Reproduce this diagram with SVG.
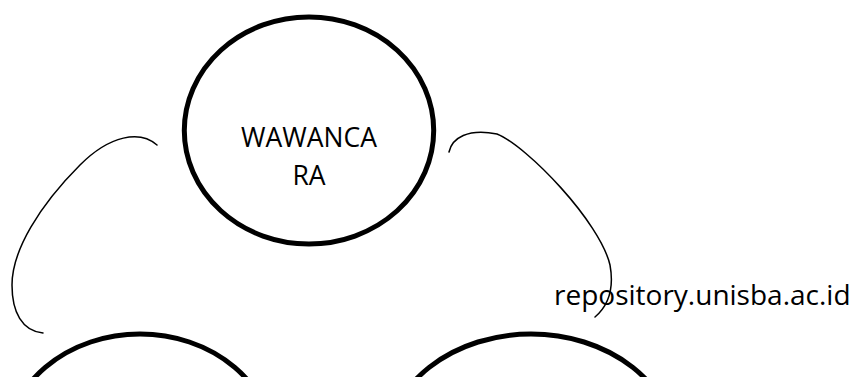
<svg xmlns="http://www.w3.org/2000/svg" width="862" height="377" viewBox="0 0 862 377">
  <style>
    .node { fill: #ffffff; stroke: #000000; stroke-width: 5; }
    .link { fill: none; stroke: #000000; stroke-width: 1.5; stroke-linecap: round; }
    .label { font-family: "Open Sans", "Liberation Sans", sans-serif; fill: #000000; }
  </style>
  <rect x="0" y="0" width="862" height="377" fill="#ffffff"/>

  <!-- curved connectors between the circles -->
  <g id="connectors">
    <path class="link" d="M157,145 C140,130 110,135 80,165 C40,205 12,250 12,285 C12,312 22,331 43,333"/>
    <path class="link" d="M449,152 C452,138 468,128 497,134 C527,146 600,222 610,265 C614,287 609,305 595,317"/>
  </g>

  <!-- top node -->
  <g id="node-wawancara">
    <ellipse class="node" cx="309" cy="130.5" rx="124.7" ry="113.5"/>
    <text class="label" x="309" y="147" font-size="26.5" text-anchor="middle">WAWANCA</text>
    <text class="label" x="309" y="185" font-size="26.5" text-anchor="middle">RA</text>
  </g>

  <!-- lower nodes, cut off by the bottom edge -->
  <g id="node-bottom-left">
    <ellipse class="node" cx="140" cy="448" rx="134" ry="114"/>
  </g>
  <g id="node-bottom-right">
    <ellipse class="node" cx="531" cy="448" rx="144" ry="114"/>
  </g>

  <g id="watermark">
    <text class="label" x="554" y="305" font-size="28">repository.unisba.ac.id</text>
  </g>
</svg>
